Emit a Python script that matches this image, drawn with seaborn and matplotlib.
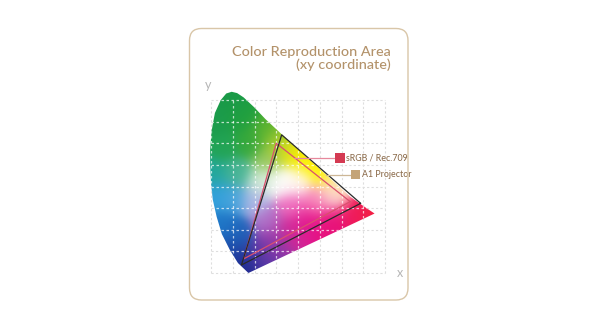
import numpy as np
import pandas as pd
import matplotlib
matplotlib.use("Agg")
import matplotlib.pyplot as plt
import seaborn as sns
from matplotlib.patches import Polygon, FancyBboxPatch
from matplotlib.colors import to_rgb

# ---------------- data ----------------
title_lines = ["Color Reproduction Area", "(xy coordinate)"]
series_names = ["sRGB / Rec.709", "A1 Projector"]

srgb_x = [0.64, 0.30, 0.15]
srgb_y = [0.33, 0.60, 0.065]
a1_x = [0.688, 0.325, 0.140]
a1_y = [0.322, 0.639, 0.037]

grid_ticks = [0.0, 0.1, 0.2, 0.3, 0.4, 0.5, 0.6, 0.7, 0.8]

# outline of the (stylised) spectral locus
locus_x = [0.172, 0.124, 0.087, 0.050, 0.026, 0.008, 0.000, -0.004, -0.004, 0.003,
           0.018, 0.045, 0.070, 0.095, 0.120, 0.150, 0.200, 0.250, 0.300, 0.330,
           0.640, 0.700, 0.752]
locus_y = [0.000, 0.046, 0.106, 0.180, 0.260, 0.340, 0.416, 0.500, 0.570, 0.660,
           0.740, 0.800, 0.830, 0.838, 0.832, 0.812, 0.765, 0.712, 0.665, 0.637,
           0.353, 0.310, 0.275]

# colour anchors of the chromaticity fill
anchor_x = [0.08, 0.02, 0.15, 0.05, 0.18, 0.25,
            0.30, 0.26,
            0.36, 0.43, 0.50, 0.57,
            0.32, 0.40, 0.23,
            0.01, 0.12,
            0.02, 0.10, 0.20,
            0.06, 0.12, 0.15, 0.10,
            0.22, 0.28, 0.26,
            0.36, 0.44, 0.55, 0.37, 0.48, 0.56,
            0.66, 0.74]
anchor_y = [0.80, 0.70, 0.72, 0.58, 0.60, 0.66,
            0.60, 0.52,
            0.56, 0.52, 0.47, 0.41,
            0.42, 0.42, 0.42,
            0.46, 0.46,
            0.36, 0.34, 0.33,
            0.22, 0.18, 0.04, 0.10,
            0.08, 0.14, 0.24,
            0.20, 0.24, 0.24, 0.31, 0.33, 0.36,
            0.28, 0.28]
anchor_c = ["#1a9a48", "#1c9c4c", "#20a040", "#22a455", "#34a83c", "#58b230",
            "#a8cc30", "#98c860",
            "#e8e410", "#fcf000", "#fff200", "#fff0a0",
            "#ffffff", "#fff8f0", "#d4ecd8",
            "#22a89a", "#48b494",
            "#30a0dc", "#48a4dc", "#b0b8e6",
            "#1e78c8", "#2060b8", "#1c2a90", "#1e4aa8",
            "#5a3aa8", "#9038a8", "#b070c8",
            "#d02898", "#e4148c", "#e8127a", "#f070c0", "#f880b8", "#fcd0dc",
            "#ee1a5e", "#f42040"]

# ---------------- figure ----------------
sns.set_style("white")
plt.rcParams["font.family"] = ["Lato", "DejaVu Sans"]

W, H = 600, 329
fig = plt.figure(figsize=(W / 100, H / 100), dpi=100)
ax = fig.add_axes([0, 0, 1, 1])
X0, Y0, SX, SY = 211.0, 273.0, 217.5, 216.25
XL = (-X0 / SX, (W - X0) / SX)
YL = (-(H - Y0) / SY, Y0 / SY)


def P(px, py):
    return (px / W, 1 - py / H)


def dx(px):
    return (px - X0) / SX


def dy(py):
    return (Y0 - py) / SY


# frame
fx0, fy0 = P(189.5, 300)
fx1, fy1 = P(408, 28.5)
frame = FancyBboxPatch((fx0, fy0), fx1 - fx0, fy1 - fy0,
                       boxstyle="round,pad=0,rounding_size=0.02",
                       transform=fig.transFigure, fill=False,
                       edgecolor="#d9c6a8", lw=1.0, mutation_aspect=W / H)
fig.patches.append(frame)

# titles
tx, ty = P(391, 55.5)
fig.text(tx, ty, title_lines[0], ha="right", va="baseline", fontsize=10.4,
         color="#b3926a", fontweight="medium")
tx, ty = P(391, 69)
fig.text(tx, ty, title_lines[1], ha="right", va="baseline", fontsize=10.4,
         color="#b3926a", fontweight="medium")

# grey grid (outside)
for t in grid_ticks:
    ax.plot([t, t], [0, 0.8], color="#dedede", lw=0.8, ls=(0, (2, 2)), zorder=1)
    ax.plot([0, 0.8], [t, t], color="#dedede", lw=0.8, ls=(0, (2, 2)), zorder=1)

# colour field
gx = np.linspace(-0.01, 0.76, 300)
gy = np.linspace(-0.005, 0.845, 300)
GX, GY = np.meshgrid(gx, gy)
ax_arr = np.array(anchor_x)[:, None, None]
ay_arr = np.array(anchor_y)[:, None, None]
cols = np.array([to_rgb(c) for c in anchor_c])
d2 = (GX[None] - ax_arr) ** 2 + (GY[None] - ay_arr) ** 2
w = np.exp(-d2 / (2 * 0.045 ** 2)) + 1e-30
w = w / w.sum(axis=0, keepdims=True)
img = np.tensordot(w.transpose(1, 2, 0), cols, axes=([2], [0]))
img = np.clip(img, 0, 1)

poly = Polygon(np.column_stack([locus_x, locus_y]), closed=True,
               transform=ax.transData, facecolor="none", edgecolor="none")
ax.add_patch(poly)
im = ax.imshow(img, extent=(gx[0], gx[-1], gy[0], gy[-1]), origin="lower",
               interpolation="bilinear", aspect="auto", zorder=2)
im.set_clip_path(poly)

# white grid inside
for t in grid_ticks:
    l1, = ax.plot([t, t], [0, 0.8], color="white", lw=0.9, ls=(0, (2, 2)),
                  alpha=0.7, zorder=3)
    l2, = ax.plot([0, 0.8], [t, t], color="white", lw=0.9, ls=(0, (2, 2)),
                  alpha=0.7, zorder=3)
    l1.set_clip_path(poly)
    l2.set_clip_path(poly)

# gamut triangles
df_s = pd.DataFrame({"x": srgb_x + srgb_x[:1], "y": srgb_y + srgb_y[:1]})
df_a = pd.DataFrame({"x": a1_x + a1_x[:1], "y": a1_y + a1_y[:1]})
sns.lineplot(data=df_s, x="x", y="y", sort=False, estimator=None, ax=ax,
             color="#d9506e", lw=0.9, zorder=4, legend=False)
sns.lineplot(data=df_a, x="x", y="y", sort=False, estimator=None, ax=ax,
             color="#2a2a2a", lw=0.9, zorder=5, legend=False)

# legend leaders
ly_s = dy(158)
ly_a = dy(174.5)
ax.plot([dx(294), dx(336)], [ly_s, ly_s], color="#e7889c", lw=0.9, zorder=6)
ax.plot([dx(326), dx(352)], [ly_a, ly_a], color="#cdb796", lw=0.9, zorder=6)
mk = pd.DataFrame({"x": [dx(340), dx(355.5)], "y": [ly_s, ly_a],
                   "name": series_names})
sns.scatterplot(data=mk, x="x", y="y", hue="name", marker="s",
                palette=["#d43a52", "#c4a478"], s=[60, 40], ax=ax,
                edgecolor="none", legend=False, zorder=7)

ax.text(dx(346.5), ly_s, series_names[0], ha="left", va="center",
        fontsize=6.3, color="#8c6c4c", fontweight="medium")
ax.text(dx(361.5), ly_a, series_names[1], ha="left", va="center",
        fontsize=6.3, color="#8c6c4c", fontweight="medium")

# axis letters
ax.text(dx(208), dy(85), "y", ha="center", va="center", fontsize=9,
        color="#b5b5b5")
ax.text(dx(399.5), dy(273), "x", ha="center", va="center", fontsize=9,
        color="#b5b5b5")

ax.set_xlim(*XL)
ax.set_ylim(*YL)
ax.axis("off")

fig.savefig("out.png", dpi=100, facecolor="white")
